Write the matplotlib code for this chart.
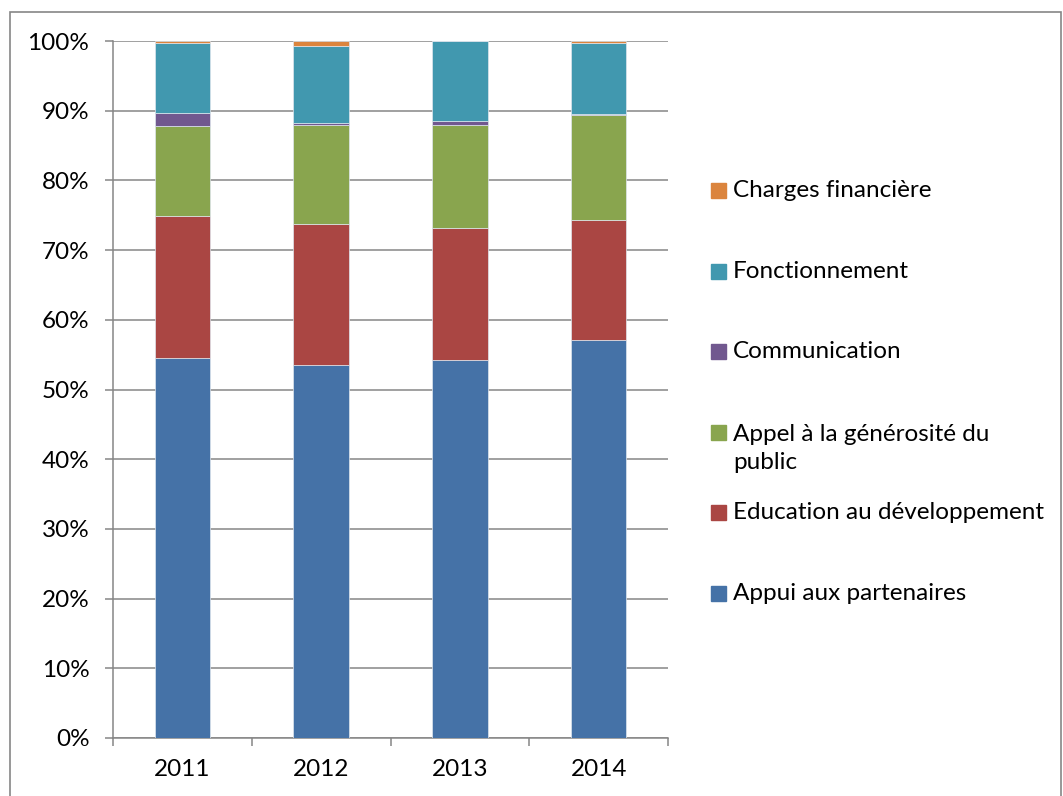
import numpy as np
import matplotlib.pyplot as plt
from matplotlib.patches import Rectangle

plt.rcParams['font.family'] = ['Lato', 'DejaVu Sans']

# data (shares in %)
years = ['2011', '2012', '2013', '2014']
appui = [54.5, 53.5, 54.3, 57.1]
education = [20.4, 20.2, 18.9, 17.2]
appel = [12.9, 14.2, 14.8, 15.1]
communication = [1.8, 0.3, 0.5, 0.1]
fonctionnement = [10.1, 11.1, 11.45, 10.2]
charges = [0.3, 0.7, 0.05, 0.3]

series = [appui, education, appel, communication, fonctionnement, charges]
labels = ['Appui aux partenaires', 'Education au développement',
          'Appel à la générosité du\npublic', 'Communication',
          'Fonctionnement', 'Charges financière']
colors = ['#4572A7', '#AA4643', '#89A54E', '#71588F', '#4198AF', '#DB843D']

W, H = 1063, 796
fs = 17.5
fig = plt.figure(figsize=(W/100, H/100), dpi=100)
ax = fig.add_axes([113/W, (H-738)/H, 555/W, 697/H])

x = np.arange(len(years))
bottom = np.zeros(len(years))
for vals, col in zip(series, colors):
    vals = np.array(vals)
    ax.bar(x, vals, width=0.40, bottom=bottom, color=col,
           edgecolor='#dfe6ee', linewidth=0.5, zorder=3)
    bottom += vals

grey = '#868686'
ax.set_xlim(-0.5, 3.5)
ax.set_ylim(0, 100)
ax.set_yticks(np.arange(0, 101, 10))
ax.set_yticklabels([f'{v}%' for v in range(0, 101, 10)])
ax.yaxis.grid(True, color=grey, linewidth=1.1, zorder=0)
ax.set_axisbelow(True)

ax.set_xticks(np.arange(-0.5, 4, 1))
ax.set_xticklabels([])
ax.set_xticks(x, minor=True)
ax.set_xticklabels(years, minor=True)
ax.tick_params(axis='x', which='major', length=6, width=1.1, color=grey, direction='out')
ax.tick_params(axis='x', which='minor', length=0, pad=15, labelsize=fs)
ax.tick_params(axis='y', length=6, width=1.1, color=grey, pad=11, labelsize=fs)

for s in ['top', 'right']:
    ax.spines[s].set_visible(False)
for s in ['left', 'bottom']:
    ax.spines[s].set_color(grey)
    ax.spines[s].set_linewidth(1.1)

# legend, drawn top to bottom in reverse stacking order
row0, step = 190.7, 80.5
for k, (lab, col) in enumerate(zip(labels[::-1], colors[::-1])):
    yc = row0 + k * step
    fig.add_artist(Rectangle((711/W, 1 - (yc + 7.5)/H), 15/W, 15/H,
                             transform=fig.transFigure, color=col))
    nlines = lab.count('\n') + 1
    ty = yc + (nlines - 1) * 16
    fig.text(733/W, 1 - ty/H, lab, fontsize=fs, va='center', ha='left',
             linespacing=1.4)

# outer chart frame
fig.add_artist(Rectangle((10/W, -0.05), (1061 - 10)/W, 1.05 - 12/H,
                         transform=fig.transFigure, fill=False,
                         edgecolor=grey, linewidth=1.2))

fig.savefig('out.png', dpi=100)
